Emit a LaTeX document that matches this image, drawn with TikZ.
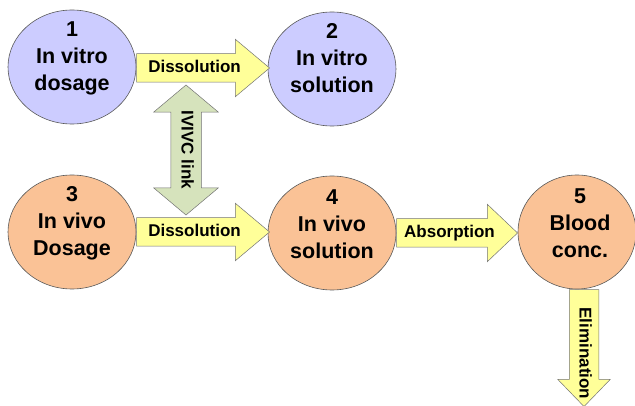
\documentclass[tikz,border=0pt]{standalone}
\usepackage{fontspec}
\setmainfont{Liberation Sans}
\usetikzlibrary{shapes.geometric,shapes.arrows,calc}
\usepackage{xcolor}

\definecolor{vitro}{RGB}{204,204,255}
\definecolor{vivo}{RGB}{250,194,150}
\definecolor{flowyellow}{RGB}{255,255,153}
\definecolor{linkgreen}{RGB}{214,227,188}

\begin{document}
\begin{tikzpicture}[x=1pt,y=-1pt,
    blob/.style={ellipse,draw=black!65,line width=0.6pt,inner sep=0pt,
      minimum width=128pt,minimum height=114pt},
    blobtext/.style={align=center,font=\fontsize{21.5}{27}\selectfont\bfseries},
    flow/.style={single arrow,draw=black!55,line width=0.5pt,fill=flowyellow,
      font=\fontsize{17}{20}\selectfont\bfseries,text height=12.5pt,
      text depth=3.5pt,inner ysep=6pt,inner xsep=4pt,
      single arrow head extend=14.5pt,single arrow tip angle=80}]
      \useasboundingbox (0,0) rectangle (635,406);

      % Etats
      \node[blob,fill=vitro] (e1) at (72,67) {};
      \node[blob,fill=vitro] (e2) at (332,69) {};
      \node[blob,fill=vivo] (e3) at (72,232) {};
      \node[blob,fill=vivo] (e4) at (332,233) {};
      \node[blob,fill=vivo,minimum width=118pt] (e5) at (577,232) {};

      \node[blobtext] (t1) at ([yshift=9pt]e1.center) {1\\In vitro\\dosage};
      \node[blobtext] (t2) at ([yshift=11pt]e2.center) {2\\In vitro\\solution};
      \node[blobtext] (t3) at ([yshift=9pt]e3.center) {3\\In vivo\\Dosage};
      \node[blobtext] (t4) at ([yshift=9pt]e4.center) {4\\In vivo\\solution};
      \node[blobtext] (t5) at ([yshift=9pt,xshift=3pt]e5.center) {5\\Blood\\conc.};

      % Fleches
      \node[flow,anchor=tail,minimum height=133pt] (diss1) at ([yshift=-1pt]e1.east) {Dissolution};
      \node[flow,anchor=tail,minimum height=133pt] (diss2) at (e3.east) {Dissolution};
      \node[flow,anchor=tail,minimum height=121pt,single arrow tip angle=87]
        (absorb) at (e4.east) {Absorption};
      \node[flow,anchor=tail,rotate=-90,minimum height=117pt,inner ysep=6.5pt,
        single arrow head extend=11.5pt,single arrow tip angle=88]
        (elim) at ([xshift=7pt]e5.south) {\makebox[60pt]{\hspace*{26pt}Elimination}};

      % Lien IVIVC
      \node[double arrow,draw=black!55,line width=0.5pt,fill=linkgreen,rotate=-90,
        font=\fontsize{17}{20}\selectfont\bfseries,text height=12.5pt,text depth=3.5pt,
        inner ysep=7pt,inner xsep=4pt,minimum height=130pt,
        double arrow head extend=17pt,double arrow tip angle=100]
        (ivivc) at (186,150) {IVIVC link};
    \end{tikzpicture}
\end{document}
